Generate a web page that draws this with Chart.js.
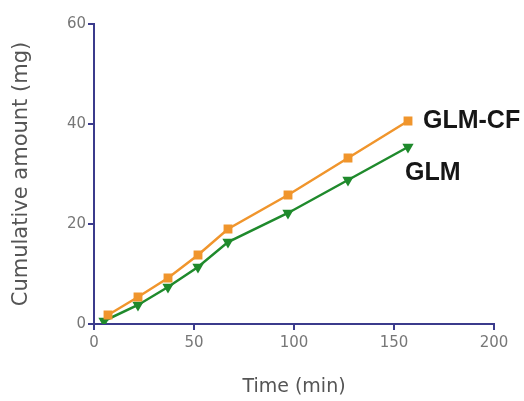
<!DOCTYPE html>
<html>
<head>
<meta charset="utf-8">
<script src="https://cdn.jsdelivr.net/npm/chart.js@4"></script>
<style>
  html, body { margin: 0; padding: 0; background: #fff; }
  #wrap { width: 524px; height: 401px; }
</style>
</head>
<body>
<div id="wrap"><canvas id="myChart" width="524" height="401"></canvas></div>
<script>
// data
const timeGlmCf = [7, 22, 37, 52, 67, 97, 127, 157];
const amountGlmCf = [1.8, 5.4, 9.2, 13.8, 19.0, 25.8, 33.2, 40.6];
const timeGlm = [5, 22, 37, 52, 67, 97, 127, 157];
const amountGlm = [0.6, 3.8, 7.4, 11.4, 16.4, 22.2, 28.8, 35.4];
const xTicks = [0, 50, 100, 150, 200];
const yTicks = [0, 20, 40, 60];

const axisColor = '#3b3b8c';
const tickFont = '"DejaVu Sans", Verdana, sans-serif';
const labelFont = 'Arial, "Liberation Sans", sans-serif';

// series names written next to the last point
const endLabels = {
  id: 'endLabels',
  afterDatasetsDraw(chart) {
    const ctx = chart.ctx;
    ctx.save();
    ctx.font = 'bold 25px ' + labelFont;
    ctx.fillStyle = '#161616';
    ctx.textBaseline = 'middle';
    ctx.textAlign = 'left';
    chart.data.datasets.forEach((ds, i) => {
      const meta = chart.getDatasetMeta(i);
      const last = meta.data[meta.data.length - 1];
      if (i === 0) {
        ctx.fillText(ds.label, last.x + 15, last.y);
      } else {
        ctx.fillText(ds.label, last.x - 3, last.y + 26);
      }
    });
    ctx.restore();
  }
};

const ctx = document.getElementById('myChart').getContext('2d');
const myChart = new Chart(ctx, {
  type: 'line',
  data: {
    datasets: [{
      label: 'GLM-CF',
      data: timeGlmCf.map((t, i) => ({ x: t, y: amountGlmCf[i] })),
      borderColor: '#f0952c',
      backgroundColor: '#f0952c',
      borderWidth: 2.5,
      pointStyle: 'rect',
      pointRadius: 4.5,
      fill: false
    }, {
      label: 'GLM',
      data: timeGlm.map((t, i) => ({ x: t, y: amountGlm[i] })),
      borderColor: '#1f8a2c',
      backgroundColor: '#1f8a2c',
      borderWidth: 2.5,
      pointStyle: 'triangle',
      rotation: 180,
      pointRadius: 4,
      fill: false
    }]
  },
  options: {
    responsive: false,
    animation: false,
    layout: { padding: { top: 24, right: 30, left: 0, bottom: 0 } },
    plugins: {
      legend: { display: false },
      tooltip: { enabled: false }
    },
    scales: {
      x: {
        type: 'linear',
        min: 0,
        max: 200,
        afterBuildTicks: (s) => { s.ticks = xTicks.map(v => ({ value: v })); },
        afterFit: (s) => { s.height = 77; },
        border: { color: axisColor, width: 2 },
        grid: { drawOnChartArea: false, color: axisColor, lineWidth: 2, tickLength: 6 },
        ticks: { color: '#777', font: { size: 15, family: tickFont }, padding: 4 },
        title: {
          display: true,
          text: 'Time (min)',
          color: '#555',
          font: { size: 19, family: tickFont },
          padding: { top: 4, bottom: 3 }
        }
      },
      y: {
        min: 0,
        max: 60,
        afterBuildTicks: (s) => { s.ticks = yTicks.map(v => ({ value: v })); },
        afterFit: (s) => { s.width = 94; },
        border: { color: axisColor, width: 2 },
        grid: { drawOnChartArea: false, color: axisColor, lineWidth: 2, tickLength: 6 },
        ticks: { color: '#777', font: { size: 15, family: tickFont }, padding: 2 },
        title: {
          display: true,
          text: 'Cumulative amount (mg)',
          color: '#555',
          font: { size: 21, family: tickFont },
          padding: { top: 9, bottom: 12 }
        }
      }
    }
  },
  plugins: [endLabels]
});
</script>
</body>
</html>
